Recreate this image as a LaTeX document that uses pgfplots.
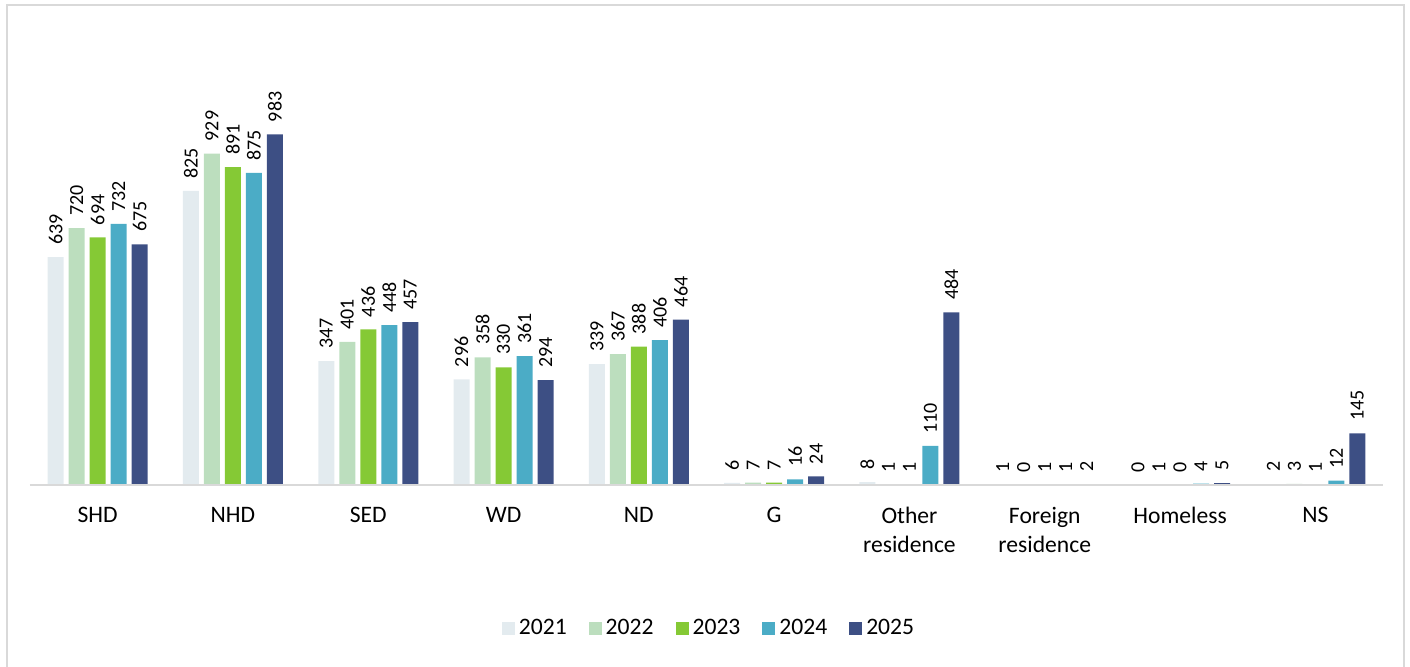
\documentclass[border=0pt]{standalone}
\usepackage{fontspec}
\setmainfont{Carlito}
\usepackage{pgfplots}
\pgfplotsset{compat=1.18}
\usepackage{pgfplotstable}

\definecolor{c21}{HTML}{E3EBEF}
\definecolor{c22}{HTML}{BCDEBE}
\definecolor{c23}{HTML}{85C935}
\definecolor{c24}{HTML}{4BACC6}
\definecolor{c25}{HTML}{3D4F84}
\definecolor{framegray}{HTML}{D9D9D9}

% residence of cases by year
\pgfplotstableread{
x y21 y22 y23 y24 y25
0 639 720 694 732 675
1 825 929 891 875 983
2 347 401 436 448 457
3 296 358 330 361 294
4 339 367 388 406 464
5 6 7 7 16 24
6 8 1 1 110 484
7 1 0 1 1 2
8 0 1 0 4 5
9 2 3 1 12 145
}\residence

\begin{document}
\begin{tikzpicture}
\path[use as bounding box] (0,0) rectangle (705pt,333pt);
\draw[framegray, line width=0.9pt] (3.5pt,-2pt) -- (3.5pt,330.5pt) -- (702pt,330.5pt) -- (702pt,-2pt);
\begin{axis}[
  at={(15pt,90.5pt)}, anchor=south west,
  scale only axis, width=676.5pt, height=214pt,
  xmin=-0.5, xmax=9.5, ymin=0, ymax=1200,
  axis line style={draw=none},
  ytick=\empty,
  xtick=data,
  xticklabels={SHD,NHD,SED,WD,ND,G,{Other\\residence},{Foreign\\residence},Homeless,NS},
  xticklabel style={align=center, font=\fontsize{11.8}{14.5}\selectfont, yshift=-7.5pt},
  major tick length=0pt,
  /pgf/number format/assume math mode=true,
  ybar=2.5pt, bar width=8pt,
  nodes near coords,
  nodes near coords style={rotate=90, anchor=west, font=\fontsize{10}{12}\selectfont, inner xsep=6pt, inner ysep=0pt},
  legend columns=5,
  legend style={draw=none, font=\fontsize{11.8}{13}\selectfont, at={(0.5026,-0.336)}, anchor=center,
    /tikz/every odd column/.append style={column sep=0pt},
    /tikz/every even column/.append style={column sep=9pt},
    nodes={inner xsep=2pt}},
  legend image code/.code={\fill[#1] (0pt,-3.25pt) rectangle (6.5pt,3.25pt);},
  clip=false,
]
\addplot[fill=c21, draw=none] table[x=x, y=y21] {\residence};
\addlegendentry{2021}
\addplot[fill=c22, draw=none] table[x=x, y=y22] {\residence};
\addlegendentry{2022}
\addplot[fill=c23, draw=none] table[x=x, y=y23] {\residence};
\addlegendentry{2023}
\addplot[fill=c24, draw=none] table[x=x, y=y24] {\residence};
\addlegendentry{2024}
\addplot[fill=c25, draw=none] table[x=x, y=y25] {\residence};
\addlegendentry{2025}
\draw[framegray, line width=0.9pt] (axis cs:-0.5,0) -- (axis cs:9.5,0);
\end{axis}
\end{tikzpicture}
\end{document}
